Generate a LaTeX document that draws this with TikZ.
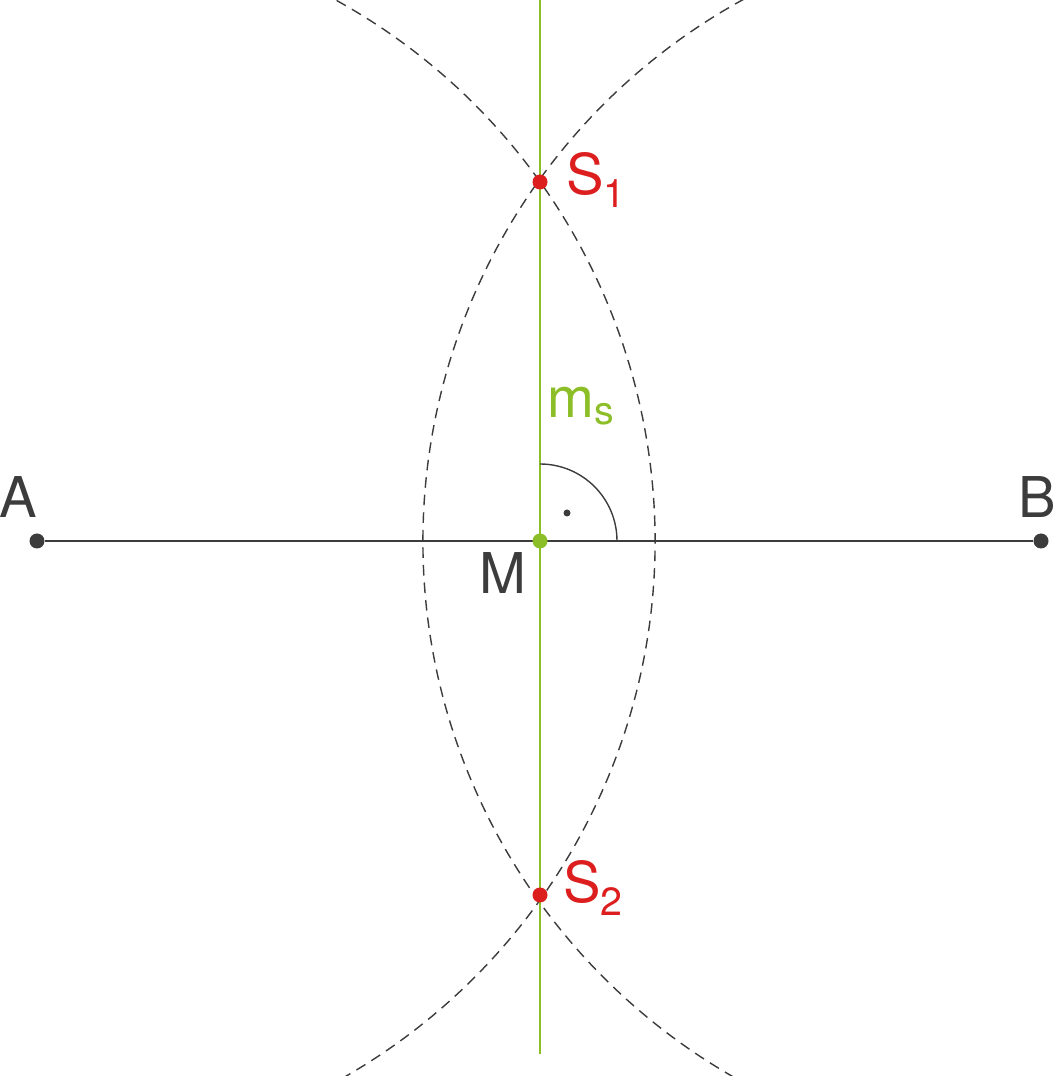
\documentclass[tikz,border=0pt]{standalone}
\usepackage{fontspec}
\setmainfont{TeX Gyre Heros}
\usetikzlibrary{positioning}
\definecolor{mydark}{RGB}{60,60,60}
\definecolor{myred}{RGB}{220,30,30}
\definecolor{mygreen}{RGB}{140,190,40}
\newcommand*{\mylabelstyle}{\fontsize{32}{38}\selectfont}
\begin{document}
\begin{tikzpicture}[x=0.02cm, y=0.02cm,
   dot/.style = {circle, fill=#1, inner sep=0pt, minimum size=0.3cm},
   lbl/.style = {font=\mylabelstyle, inner sep=0pt},
   compass/.style = {mydark, thick, dash pattern=on 6pt off 4pt}]
   \useasboundingbox (0,0) rectangle (1057,1076);

   % construction circles around A and B
   \draw[compass] (1041,535) ++(118.7:618) arc (118.7:240.6:618);
   \draw[compass] (37,535) ++(61:618) arc (61:-60.5:618);

   % segment and perpendicular bisector
   \node[dot=mydark] (A) at (37,535) {};
   \node[dot=mydark] (B) at (1041,535) {};
   \draw[mydark, thick] (A) -- (B);
   \coordinate (top) at (540,1076);
   \coordinate (bot) at (540,22);
   \draw[mygreen, thick] (top) -- (bot);

   % right angle mark
   \draw[mydark, thick] (617,535) arc (0:90:77);
   \fill[mydark] (567,563) circle (0.07cm);

   \node[dot=mygreen] (M) at (540,535) {};
   \node[dot=myred] (S1) at (540,894) {};
   \node[dot=myred] (S2) at (540,181) {};

   \node[lbl, mydark] at (18,579) {A};
   \node[lbl, mydark] at (1037,579) {B};
   \node[lbl, mydark] at (503,503) {M};
   \node[lbl, myred, anchor=west] at (566,896) {S\textsubscript{1}};
   \node[lbl, myred, anchor=west] at (563,188) {S\textsubscript{2}};
   \node[lbl, mygreen, anchor=west] at (547,670) {m\textsubscript{s}};
\end{tikzpicture}
\end{document}
